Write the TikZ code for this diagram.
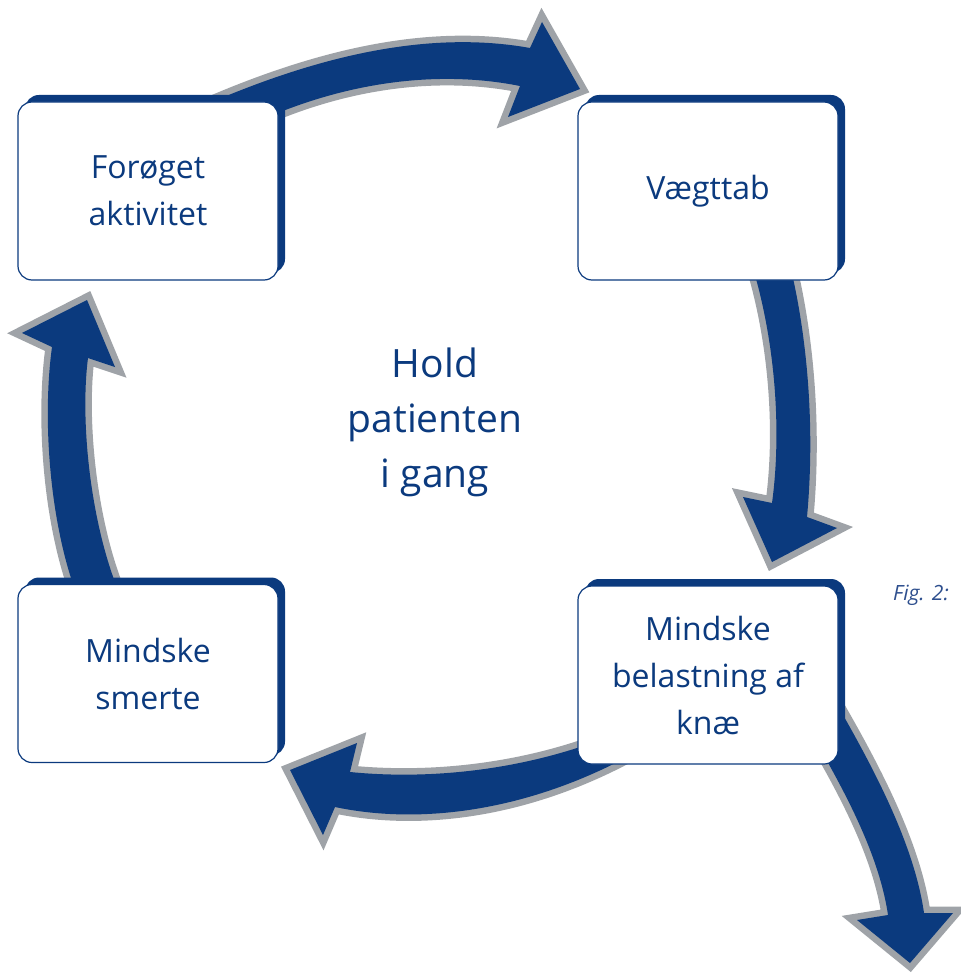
\documentclass[tikz,border=0pt]{standalone}
\usepackage{fontspec}
\setmainfont{Open Sans}
\usetikzlibrary{shadows,backgrounds}
\definecolor{navy}{HTML}{0B3A7E}
\definecolor{rim}{HTML}{9FA3A8}
\definecolor{figblue}{HTML}{2E4F8E}
\begin{document}
\begin{tikzpicture}[x=1pt,y=-1pt,
  stepbox/.style={draw=navy, line width=1.2pt, fill=white, rounded corners=14pt,
    minimum width=260pt, minimum height=178pt, inner sep=0pt, align=center,
    text=navy, font=\fontsize{32}{47}\selectfont,
    general shadow={fill=navy, shadow xshift=7pt, shadow yshift=7pt}},
  bigarrow/.style={fill=navy, preaction={draw=rim, fill=rim, line width=13pt, line join=miter}}]
\useasboundingbox (0,0) rectangle (960,976);

\node[stepbox] (fa) at (148,191) {Forøget\\aktivitet};
\node[stepbox] (vt) at (708,191) {Vægttab};
\node[stepbox] (mb) at (708,675) {Mindske\\belastning af\\knæ};
\node[stepbox] (ms) at (148,673.5) {Mindske\\smerte};
\node[text=navy, font=\fontsize{39}{55}\selectfont, align=center] (hold) at (435,422) {Hold\\patienten\\i gang};
\node[font=\fontsize{21}{26}\selectfont\itshape, text=figblue, anchor=base west, inner sep=0pt] (fig) at (893,600) {Fig. 2:};

\begin{pgfonlayer}{background}
\path[bigarrow] (205,105) .. controls (320,55) and (430,30) .. (530,48) -- (542,22) -- (580,89) -- (508,117) -- (520,86)
  .. controls (430,68) and (330,85) .. (240,130) -- cycle;
\path[bigarrow] (752,265) .. controls (775,340) and (782,430) .. (772,503) -- (743,497) -- (772,562) -- (837,528) -- (807,517)
  .. controls (815,430) and (808,340) .. (790,265) -- cycle;
\path[bigarrow] (600,740) .. controls (520,770) and (430,780) .. (350,772) -- (357,743) -- (290,770) -- (323,835) -- (335,807)
  .. controls (420,825) and (530,812) .. (640,750) -- cycle;
\path[bigarrow] (75,590) .. controls (50,520) and (42,420) .. (52,347) -- (22,333) -- (87,300) -- (115,367) -- (88,358)
  .. controls (80,420) and (90,520) .. (118,590) -- cycle;
\path[bigarrow] (815,740) .. controls (850,800) and (880,860) .. (888,915) -- (857,920) -- (910,963) -- (953,913) -- (924,913)
  .. controls (915,850) and (880,780) .. (843,715) -- cycle;
\end{pgfonlayer}
\end{tikzpicture}
\end{document}
